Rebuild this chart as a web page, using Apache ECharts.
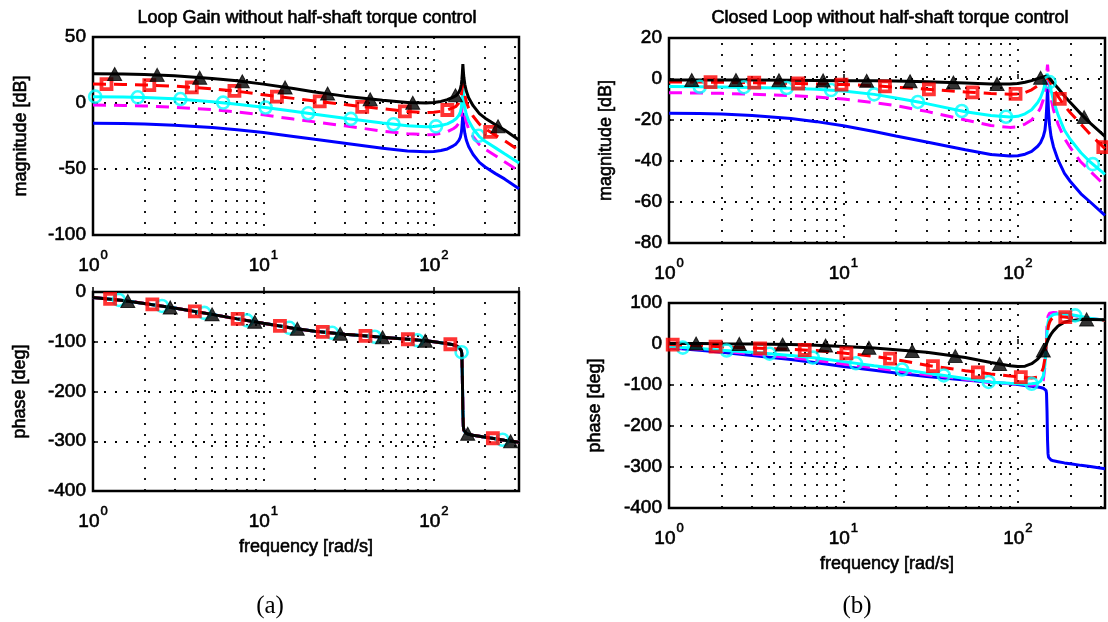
<!DOCTYPE html>
<html><head><meta charset="utf-8">
<script src="https://cdn.jsdelivr.net/npm/echarts@6/dist/echarts.min.js"></script>
<style>html,body{margin:0;padding:0;background:#fff}#c{width:1108px;height:622px}</style>
</head><body><div id="c"></div>
<script>
// ---------------- data ----------------
const freq = [1, 1.5, 2, 3, 5, 7, 10, 15, 20, 30, 50, 70, 90, 100, 110, 120, 130, 135, 140, 143, 145, 146, 147, 148, 149, 150, 152, 155, 160, 170, 185, 200, 230, 260, 316];

// (a) loop gain magnitude [dB]
const magA_black   = [22.1, 22.0, 21.6, 20.6, 18.5, 16.8, 14.3, 11.0, 8.3, 5.2, 2.0, 0.3, 0.0, 0.3, 1.2, 2.5, 4.5, 5.5, 8.0, 10.5, 14.0, 17.5, 22.5, 29.5, 24.0, 19.5, 14.0, 9.0, 4.0, -2.0, -8.0, -11.5, -16.5, -20.5, -28.0];
const magA_red     = [14.3, 14.1, 13.7, 12.8, 10.8, 8.9, 6.2, 3.5, 1.5, -1.2, -4.3, -6.5, -7.3, -7.0, -6.3, -5.3, -3.5, -2.5, 0.0, 2.5, 6.0, 9.5, 14.5, 21.5, 16.0, 11.5, 6.0, 1.0, -4.0, -10.0, -16.0, -19.5, -24.5, -28.5, -36.0];
const magA_cyan    = [4.8, 4.5, 4.2, 3.2, 1.0, -1.0, -3.2, -6.3, -8.5, -11.5, -15.2, -17.2, -18.0, -17.8, -17.0, -15.8, -13.5, -12.0, -9.5, -7.0, -3.5, 0.0, 5.0, 12.0, 6.5, 2.0, -3.5, -8.5, -13.5, -19.5, -25.5, -29.0, -34.0, -38.5, -45.5];
const magA_magenta = [-1.5, -1.8, -2.2, -3.2, -5.0, -6.8, -9.0, -12.2, -14.3, -17.3, -21.3, -23.3, -24.0, -23.8, -23.0, -21.8, -19.5, -18.0, -15.5, -13.0, -9.5, -6.0, -1.0, 6.0, 0.5, -4.0, -9.5, -14.5, -19.5, -25.5, -31.5, -35.0, -40.0, -44.5, -51.5];
const magA_blue    = [-15.4, -15.6, -15.9, -16.8, -18.5, -20.2, -22.3, -25.3, -27.5, -30.5, -34.3, -36.3, -37.0, -36.8, -36.0, -34.8, -32.5, -31.0, -28.5, -26.0, -22.5, -19.0, -14.0, -7.5, -13.0, -17.5, -23.0, -28.0, -33.0, -39.0, -45.0, -48.5, -53.5, -57.5, -65.0];
// (a) loop gain phase [deg] (all five curves coincide)
const phA_all      = [-11, -17, -23, -32, -45, -54, -63, -73, -79, -85, -91, -95, -98, -100, -102, -104, -106, -108, -111, -114, -118, -124, -170, -240, -270, -278, -282, -284, -286, -288, -290, -292, -295, -298, -302];

// (b) closed loop magnitude [dB]
const magB_black   = [-0.5, -0.5, -0.5, -0.5, -0.6, -0.7, -0.8, -0.9, -1.0, -1.3, -1.9, -2.4, -2.4, -2.2, -1.6, -0.8, 0.2, 0.6, 1.0, 1.2, 1.3, 1.3, 1.3, 1.3, 1.2, 1.0, 0.5, -0.5, -2.0, -4.5, -8.3, -11.5, -17.0, -21.5, -28.0];
const magB_red     = [-1.5, -1.5, -1.6, -1.8, -2.1, -2.4, -2.7, -3.3, -4.0, -5.0, -6.3, -7.1, -7.4, -7.3, -6.6, -5.3, -3.3, -2.2, -1.0, -0.2, 0.2, 0.4, 0.5, 0.5, 0.3, 0.0, -0.8, -2.3, -4.5, -8.5, -13.0, -16.5, -22.0, -27.0, -34.0];
const magB_cyan    = [-3.7, -3.8, -3.9, -4.1, -4.5, -5.0, -5.8, -7.5, -9.3, -12.0, -16.0, -17.8, -18.5, -18.2, -17.0, -15.0, -11.5, -9.0, -5.5, -2.5, 0.0, 1.5, 2.5, 3.0, 2.3, 1.0, -1.5, -5.5, -10.5, -17.5, -25.0, -29.5, -36.0, -40.5, -46.5];
const magB_magenta = [-6.7, -6.8, -7.0, -7.4, -8.1, -8.8, -9.8, -11.5, -13.0, -15.8, -20.0, -22.7, -23.6, -23.3, -22.0, -20.0, -16.5, -14.0, -10.0, -6.0, -1.5, 1.5, 4.5, 7.0, 4.0, 0.5, -4.0, -9.5, -15.0, -22.0, -29.0, -33.5, -40.5, -45.0, -52.0];
const magB_blue    = [-16.7, -16.8, -17.1, -17.8, -19.3, -20.8, -22.8, -25.6, -27.8, -30.7, -34.5, -36.8, -37.6, -37.4, -36.7, -35.3, -32.8, -31.0, -28.0, -25.0, -20.0, -15.5, -10.0, -4.0, -10.5, -16.0, -22.5, -28.0, -33.0, -39.5, -46.0, -50.0, -56.0, -60.0, -66.5];
// (b) closed loop phase [deg]
const phB_black    = [1, 1, 0.5, 0, -1.5, -3, -6, -10, -14, -20, -33, -45, -53, -55, -54, -48, -37, -28, -16, -8, -2, 1, 4, 7, 10, 13, 18, 24, 32, 44, 53, 57, 60, 60, 59];
const phB_red      = [-1, -4, -7, -10, -13, -16, -22, -30, -38, -52, -65, -73, -78, -80, -82, -83, -81, -75, -58, -35, -10, 5, 18, 30, 38, 45, 53, 60, 64, 67, 66, 64, 61, 60, 58];
const phB_cyan     = [-7, -11, -15, -20, -28, -34, -43, -53, -60, -71, -84, -93, -96, -97, -98, -97, -95, -91, -78, -50, -15, 8, 28, 43, 52, 58, 65, 69, 72, 74, 73, 72, 67, 63, 58];
const phB_magenta  = [-8, -13, -17, -24, -33, -40, -49, -58, -65, -75, -86, -94, -97, -98, -99, -100, -100, -98, -88, -55, -10, 20, 45, 60, 68, 72, 75, 77, 77, 76, 74, 71, 66, 62, 58];
const phB_blue     = [-9, -15, -20, -28, -38, -46, -55, -64, -71, -79, -88, -93, -97, -99, -101, -103, -105, -106, -108, -110, -113, -120, -165, -235, -268, -276, -280, -283, -285, -287, -290, -292, -296, -299, -304];

// marker points [frequency, value]
const mkMagA_black = [[1.34,22.0],[2.38,21.3],[4.23,19.2],[7.52,16.4],[13.4,11.8],[23.8,7.2],[42.3,2.8],[75.2,0.2],[134,5.8],[238,-17.6]];
const mkMagA_red   = [[1.2,14.3],[2.14,13.6],[3.8,11.8],[6.76,9.2],[12.0,4.9],[21.4,1.2],[38.0,-2.9],[67.6,-6.3],[120,-5.3],[214,-21.8]];
const mkMagA_cyan  = [[1.03,4.8],[1.83,4.3],[3.26,3.0],[5.8,0.3],[10.3,-3.4],[18.3,-7.8],[32.6,-12.0],[58,-16.1],[103,-17.7],[183,-24.8]];
const mkPhA_black  = [[1.6,-18],[2.84,-31],[5.0,-45],[8.9,-60],[15.8,-74],[28.2,-84],[50,-91],[89,-98],[158,-285],[282,-300]];
const mkPhA_red    = [[1.26,-14],[2.23,-25],[3.96,-39],[7.06,-54],[12.5,-68],[22.3,-80],[39.7,-88],[70.4,-95],[125,-105],[222,-294]];
const mkPhA_cyan   = [[1.42,-16],[2.54,-28],[4.5,-42],[8.0,-57],[14.2,-72],[25.3,-82],[45,-90],[80,-97],[145.5,-121],[253,-297]];
const mkMagB_black = [[1.35,-0.5],[2.42,-0.5],[4.27,-0.6],[7.65,-0.7],[13.6,-0.9],[24.1,-1.1],[42.7,-1.7],[76,-2.4],[135,0.6],[240,-18.6]];
const mkMagB_red   = [[1.73,-1.5],[3.08,-1.8],[5.5,-2.2],[9.75,-2.7],[17.3,-3.6],[30.9,-5.1],[55,-6.5],[97,-7.3],[174,-9.7],[309,-33.2]];
const mkMagB_cyan  = [[1.5,-3.8],[2.69,-4.0],[4.73,-4.4],[8.5,-5.4],[15,-7.5],[26.7,-11.2],[47.7,-15.6],[85.5,-18.4],[152,-1.5],[269,-41.5]];
const mkPhB_black  = [[1.43,1],[2.53,0.2],[4.48,-1.2],[7.9,-3.8],[14,-9.3],[24.8,-17.2],[43.8,-29.6],[78.6,-48.7],[140,-16],[248,60]];
const mkPhB_red    = [[1.05,-1.4],[1.85,-6.2],[3.33,-10.6],[6.0,-14.6],[10.4,-22.8],[18.5,-35.8],[32.6,-54.1],[59,-69],[104,-80.8],[187,65.7]];
const mkPhB_cyan   = [[1.2,-8.8],[2.14,-15.8],[3.77,-23.6],[6.68,-33.2],[11.8,-47.1],[21.7,-62.2],[37.6,-76.7],[68,-92.5],[120,-97],[213,69.8]];

// axes / ticks
const xRange = [1, 316];
const xMajorTicks = [1, 10, 100];
const xMinorGrid = [2,3,4,5,6,7,8,9,20,30,40,50,60,70,80,90,200,300];
const yMagA = {min: -100, max: 50, step: 50};
const yPhA  = {min: -400, max: 0, step: 100};
const yMagB = {min: -80, max: 20, step: 20};
const yPhB  = {min: -400, max: 100, step: 100};

const titleA = 'Loop Gain without half-shaft torque control';
const titleB = 'Closed Loop without half-shaft torque control';
const yNameMag = 'magnitude [dB]';
const yNamePh = 'phase [deg]';
const xName = 'frequency [rad/s]';

// ---------------- chart ----------------
const FONT = '"Liberation Sans", Arial, Helvetica, sans-serif';
const HEAVY = {textBorderColor:'#000', textBorderWidth:0.6};
const C = {black:'#000000', red:'#ff0000', cyan:'#00ffff', magenta:'#ff00ff', blue:'#0000ff'};
const dotted = {color:'#000', type:[2,9], width:1.8};

const grids = [
  {left: 93,  top: 37,  width: 426, height: 198},
  {left: 93,  top: 292, width: 426, height: 199},
  {left: 669, top: 38,  width: 440, height: 205},
  {left: 669, top: 303, width: 440, height: 205}
].map(g => Object.assign({show:true, borderColor:'#000', borderWidth:2.5, backgroundColor:'rgba(0,0,0,0)', containLabel:false}, g));

function xAx(gi, named, gap) {
  return {
    type:'log', logBase:10, gridIndex:gi, min:xRange[0], max:xRange[1],
    axisLine:{show:false},
    axisTick:{show:true, inside:true, length:5, lineStyle:{color:'#000', width:1.5}},
    splitLine:{show:true, lineStyle:dotted},
    axisLabel:{
      margin: 14, color:'#000',
      formatter: function(v){
        const e = Math.log10(v);
        if (Math.abs(e - Math.round(e)) > 1e-6) return '';
        if (xMajorTicks.indexOf(Math.round(Math.pow(10, Math.round(e)))) < 0) return '';
        return '{b|10}{s|' + Math.round(e) + '}';
      },
      rich:{
        b:Object.assign({fontSize:19, fontFamily:FONT, color:'#000', lineHeight:26, verticalAlign:'bottom'}, HEAVY),
        s:Object.assign({fontSize:13, fontFamily:FONT, color:'#000', lineHeight:26, verticalAlign:'top', padding:[0,0,0,1]}, HEAVY)
      }
    },
    name: named ? xName : '', nameLocation:'middle', nameGap: gap || 40,
    nameTextStyle:Object.assign({fontSize:18, fontFamily:FONT, color:'#000'}, HEAVY)
  };
}
function yAx(gi, r, name, gap) {
  return {
    type:'value', gridIndex:gi, min:r.min, max:r.max, interval:r.step,
    axisLine:{show:false},
    axisTick:{show:true, inside:true, length:5, lineStyle:{color:'#000', width:1.5}},
    splitLine:{show:true, lineStyle:dotted},
    axisLabel:Object.assign({fontSize:19, fontFamily:FONT, color:'#000', margin:7}, HEAVY),
    name:name, nameLocation:'middle', nameRotate:90, nameGap:gap,
    nameTextStyle:Object.assign({fontSize:18, fontFamily:FONT, color:'#000'}, HEAVY)
  };
}

function pairs(ys){ return freq.map((f,i)=>[f, ys[i]]); }
function line(gi, ys, color, dashed, extra){
  const s = {type:'line', xAxisIndex:gi, yAxisIndex:gi, data:pairs(ys), symbol:'none', showSymbol:false,
    lineStyle:{color:color, width:3, type: dashed ? [13,8] : 'solid'}, silent:true, animation:false, z:3};
  return Object.assign(s, extra || {});
}
function marks(gi, pts, kind){
  const base = {type:'scatter', xAxisIndex:gi, yAxisIndex:gi, data:pts, silent:true, animation:false, z:4};
  if (kind === 'tri') return Object.assign(base, {symbol:'triangle', symbolSize:[14,13], itemStyle:{color:'#000', borderColor:'#000', borderWidth:1}});
  if (kind === 'sq') return Object.assign(base, {symbol:'rect', symbolSize:10, itemStyle:{color:'rgba(0,0,0,0)', borderColor:C.red, borderWidth:3.8}});
  return Object.assign(base, {symbol:'circle', symbolSize:12, itemStyle:{color:'rgba(0,0,0,0)', borderColor:C.cyan, borderWidth:2.6}});
}
function gridLines(){
  return {silent:true, symbol:['none','none'], label:{show:false}, lineStyle:dotted, animation:false, z:1,
    emphasis:{disabled:true}, data: xMinorGrid.map(f => ({xAxis:f}))};
}

function panel(gi, sets, mk){
  return [
    line(gi, sets.blue, C.blue, false, {markLine: gridLines()}),
    line(gi, sets.magenta, C.magenta, true),
    line(gi, sets.cyan, C.cyan, false),
    marks(gi, mk.cyan, 'circ'),
    line(gi, sets.red, C.red, true),
    marks(gi, mk.red, 'sq'),
    line(gi, sets.black, C.black, false),
    marks(gi, mk.black, 'tri')
  ];
}

const series = [].concat(
  panel(0, {blue:magA_blue, magenta:magA_magenta, cyan:magA_cyan, red:magA_red, black:magA_black},
           {cyan:mkMagA_cyan, red:mkMagA_red, black:mkMagA_black}),
  panel(1, {blue:phA_all, magenta:phA_all, cyan:phA_all, red:phA_all, black:phA_all},
           {cyan:mkPhA_cyan, red:mkPhA_red, black:mkPhA_black}),
  panel(2, {blue:magB_blue, magenta:magB_magenta, cyan:magB_cyan, red:magB_red, black:magB_black},
           {cyan:mkMagB_cyan, red:mkMagB_red, black:mkMagB_black}),
  panel(3, {blue:phB_blue, magenta:phB_magenta, cyan:phB_cyan, red:phB_red, black:phB_black},
           {cyan:mkPhB_cyan, red:mkPhB_red, black:mkPhB_black})
);

const titleStyle = Object.assign({fontSize:18, fontWeight:'normal', fontFamily:FONT, color:'#000'}, HEAVY);
const capStyle = {fontSize:25, fontWeight:'normal', fontFamily:'"Liberation Serif", "Times New Roman", serif', color:'#000'};

const chart = echarts.init(document.getElementById('c'), null, {renderer:'canvas'});
chart.setOption({
  animation:false,
  backgroundColor:'#ffffff',
  title:[
    {text:titleA, left:302, top:4, textAlign:'center', textStyle:titleStyle},
    {text:titleB, left:885, top:4, textAlign:'center', textStyle:titleStyle},
    {text:'(a)', left:265, top:589, textAlign:'center', textStyle:capStyle},
    {text:'(b)', left:852, top:589, textAlign:'center', textStyle:capStyle}
  ],
  grid: grids,
  xAxis:[xAx(0,false), xAx(1,true,47), xAx(2,false), xAx(3,true,47)],
  yAxis:[yAx(0,yMagA,yNameMag,63), yAx(1,yPhA,yNamePh,64), yAx(2,yMagB,yNameMag,54), yAx(3,yPhB,yNamePh,65)],
  series: series
});
</script>
</body></html>
